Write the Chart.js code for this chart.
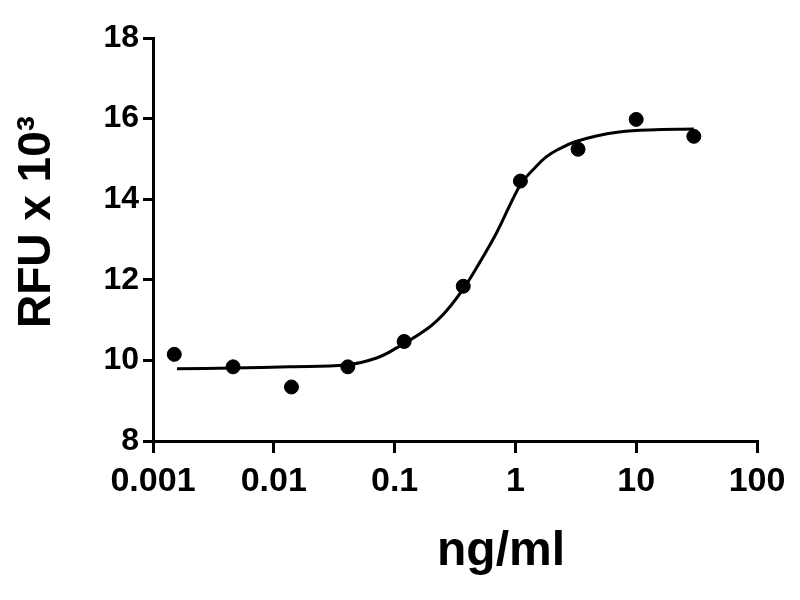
<!DOCTYPE html>
<html>
<head>
<meta charset="utf-8">
<script src="https://cdn.jsdelivr.net/npm/chart.js@4/dist/chart.umd.min.js"></script>
<style>
  html, body { margin: 0; padding: 0; background: #fff; }
  canvas { display: block; }
</style>
</head>
<body>
<canvas id="myChart" width="800" height="600"></canvas>
<script>
// Measured points (ng/ml vs RFU x 10^3)
const doseValues = [0.0015, 0.0046, 0.014, 0.041, 0.12, 0.37, 1.1, 3.3, 10, 30];
const rfuValues = [10.15, 9.84, 9.34, 9.84, 10.47, 11.84, 14.45, 15.24, 15.98, 15.56];

// Fitted curve
const curveDose = [0.00158, 0.0046, 0.0136, 0.040, 0.071, 0.104, 0.195, 0.269, 0.379, 0.504, 0.697, 0.944, 1.14, 1.44, 1.80, 2.31, 3.08, 4.67, 7.24, 12.8, 30];
const curveRfu = [9.79, 9.81, 9.84, 9.89, 10.06, 10.31, 10.83, 11.23, 11.82, 12.42, 13.16, 13.98, 14.43, 14.77, 15.05, 15.25, 15.42, 15.57, 15.67, 15.72, 15.74];

// Axis ticks
const xTickValues = [0.001, 0.01, 0.1, 1, 10, 100];
const xTickLabels = ['0.001', '0.01', '0.1', '1', '10', '100'];
const yTickValues = [8, 10, 12, 14, 16, 18];

const xTitle = 'ng/ml';
const yTitle = 'RFU x 10\u00B3';

const fontFamily = '"Liberation Sans", Arial, sans-serif';

// Axis titles drawn by hand so they sit where the original has them
const titlePlugin = {
    id: 'titles',
    afterDraw(chart) {
        const c = chart.ctx;
        c.save();
        c.fillStyle = '#000';
        c.font = 'bold 48px ' + fontFamily;
        c.textAlign = 'center';
        c.textBaseline = 'alphabetic';
        c.fillText(xTitle, 501, 565);

        c.translate(50, 222);
        c.rotate(-Math.PI / 2);
        c.font = 'bold 46px ' + fontFamily;
        c.fillText(yTitle, 0, 0);
        c.restore();
    }
};

let ctx = document.getElementById('myChart').getContext('2d');
let myChart = new Chart(ctx, {
    type: 'scatter',
    data: {
        datasets: [
            {
                label: 'data',
                data: doseValues.map((x, i) => ({ x: x, y: rfuValues[i] })),
                backgroundColor: '#000',
                borderColor: '#000',
                pointRadius: 7,
                pointHoverRadius: 7,
                showLine: false,
                order: 0
            },
            {
                label: 'fit',
                data: curveDose.map((x, i) => ({ x: x, y: curveRfu[i] })),
                borderColor: '#000',
                borderWidth: 3,
                pointRadius: 0,
                showLine: true,
                fill: false,
                tension: 0.4,
                order: 1
            }
        ]
    },
    options: {
        responsive: false,
        animation: false,
        devicePixelRatio: 1,
        layout: {
            padding: { left: 0, top: 38, right: 43, bottom: 0 }
        },
        plugins: {
            legend: { display: false },
            tooltip: { enabled: false }
        },
        scales: {
            x: {
                type: 'logarithmic',
                min: 0.001,
                max: 100,
                offset: false,
                afterBuildTicks: (scale) => {
                    scale.ticks = xTickValues.map(v => ({ value: v }));
                },
                afterFit: (scale) => { scale.height = 159; },
                ticks: {
                    autoSkip: false,
                    maxRotation: 0,
                    padding: 8,
                    color: '#000',
                    font: { family: fontFamily, size: 34, weight: 'bold' },
                    callback: (value, index) => xTickLabels[index]
                },
                grid: {
                    drawOnChartArea: false,
                    color: '#000',
                    lineWidth: 3,
                    tickLength: 12
                },
                border: { color: '#000', width: 3 }
            },
            y: {
                min: 8,
                max: 18,
                afterBuildTicks: (scale) => {
                    scale.ticks = yTickValues.map(v => ({ value: v }));
                },
                afterFit: (scale) => { scale.width = 153; },
                ticks: {
                    padding: 4,
                    color: '#000',
                    font: { family: fontFamily, size: 32, weight: 'bold' }
                },
                grid: {
                    drawOnChartArea: false,
                    color: '#000',
                    lineWidth: 3,
                    tickLength: 10
                },
                border: { color: '#000', width: 3 }
            }
        }
    },
    plugins: [titlePlugin]
});
</script>
</body>
</html>
